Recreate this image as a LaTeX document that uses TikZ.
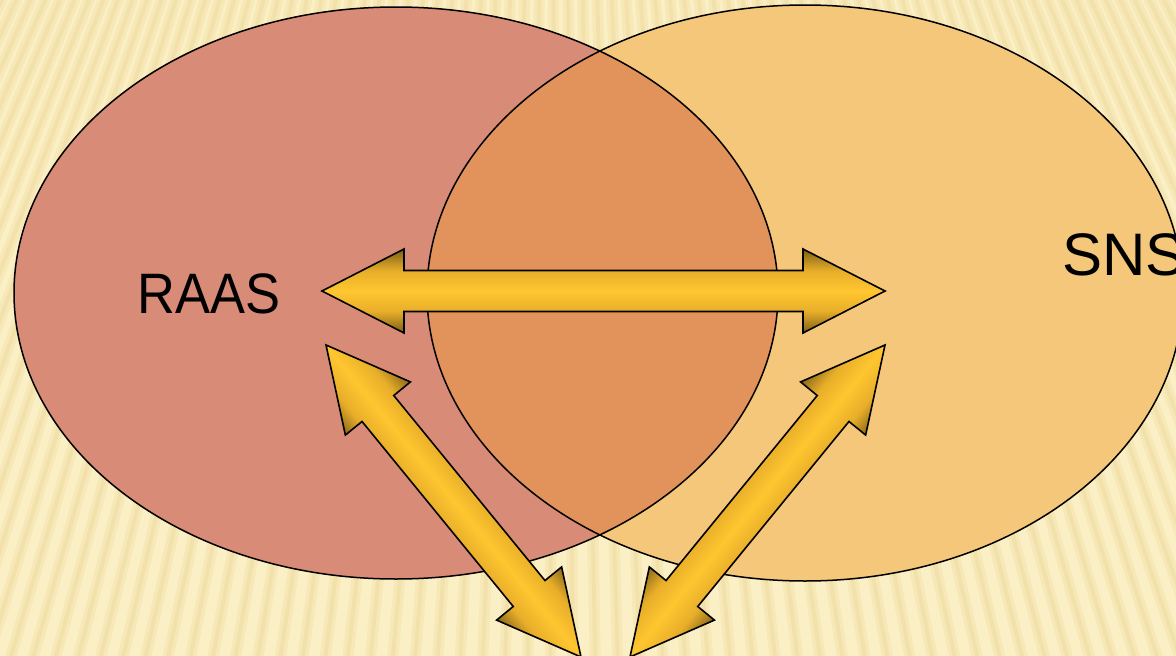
\documentclass[tikz,border=0pt]{standalone}
\usepackage{fontspec}
\setmainfont{Liberation Sans}
\usetikzlibrary{calc}

\definecolor{paper}{HTML}{FBEFC5}
\definecolor{paperstripe}{HTML}{EED99A}
\definecolor{raasfill}{HTML}{D88B76}
\definecolor{snsfill}{HTML}{F4C77A}
\definecolor{bothfill}{HTML}{E2935C}
\definecolor{gold}{HTML}{FFC630}
\definecolor{goldedge}{HTML}{E8AE2A}
\definecolor{golddark}{HTML}{7E5F16}

\pgfdeclareverticalshading{goldbar}{100bp}{color(0bp)=(golddark); color(25bp)=(golddark);
  color(38bp)=(goldedge); color(50bp)=(gold); color(62bp)=(goldedge);
  color(75bp)=(golddark); color(100bp)=(golddark)}
% same, squeezed for the slanted arrows
\pgfdeclareverticalshading{goldbarslant}{100bp}{color(0bp)=(golddark); color(42bp)=(golddark);
  color(46bp)=(goldedge); color(50bp)=(gold); color(54bp)=(goldedge);
  color(58bp)=(golddark); color(100bp)=(golddark)}

% block arrow with a head at both ends: [style]{tip}{tip}
\newcommand\bothways[3][twoway]{%
  \path[#1] (#2)
    -- ($(#2)!82pt!(#3)!42pt!90:(#3)$)
    -- ($(#2)!82pt!(#3)!20.5pt!90:(#3)$)
    -- ($(#3)!82pt!(#2)!20.5pt!-90:(#2)$)
    -- ($(#3)!82pt!(#2)!42pt!-90:(#2)$)
    -- (#3)
    -- ($(#3)!82pt!(#2)!42pt!90:(#2)$)
    -- ($(#3)!82pt!(#2)!20.5pt!90:(#2)$)
    -- ($(#2)!82pt!(#3)!20.5pt!-90:(#3)$)
    -- ($(#2)!82pt!(#3)!42pt!-90:(#3)$)
    -- cycle;}

\begin{document}
\begin{tikzpicture}[x=1pt, y=-1pt,
    twoway/.style={draw=black, line width=1.6pt, line join=miter, shade, shading=goldbar},
    slantway/.style={twoway, shading=goldbarslant, shading angle=#1},
    setname/.style={font=\fontsize{#1}{60}\selectfont, inner sep=0pt, anchor=base west},
    rim/.style={draw=black, line width=1.5pt}
  ]
  \useasboundingbox (0,0) rectangle (1176,656);
  \clip (0,0) rectangle (1176,656);

  % striped paper
  \fill[paper] (0,0) rectangle (1176,656);
  \foreach \x in {-600,-577,...,1800}{
    \draw[paperstripe, line width=11pt, opacity=.3] (560,-1200) -- (\x,700);
    \draw[paperstripe, line width=4pt, opacity=.45] (560,-1200) -- (\x,700);
  }

  % the two sets
  \coordinate (raasc) at (396,293);
  \coordinate (snsc) at (805,293);
  \fill[raasfill] (raasc) ellipse [x radius=382pt, y radius=286pt];
  \fill[snsfill] (snsc) ellipse [x radius=378pt, y radius=288pt];
  \begin{scope}
    \clip (raasc) ellipse [x radius=382pt, y radius=286pt];
    \fill[bothfill] (snsc) ellipse [x radius=378pt, y radius=288pt];
  \end{scope}
  \path[rim] (raasc) ellipse [x radius=382pt, y radius=286pt];
  \path[rim] (snsc) ellipse [x radius=378pt, y radius=288pt];

  \node[setname=57, xscale=0.92] (raas) at (137,313) {RAAS};
  \node[setname=60] (sns) at (1062,275) {SNS};

  % arrow ends
  \coordinate (raasTip) at (322,291);
  \coordinate (snsTip) at (885,291);
  \coordinate (raasLow) at (326,345);
  \coordinate (snsLow) at (885,345);
  \coordinate (baseL) at (581,657);
  \coordinate (baseR) at (630,657);

  \bothways{raasTip}{snsTip}
  \bothways[slantway=-50.6]{raasLow}{baseL}
  \bothways[slantway=50.6]{snsLow}{baseR}
\end{tikzpicture}
\end{document}
